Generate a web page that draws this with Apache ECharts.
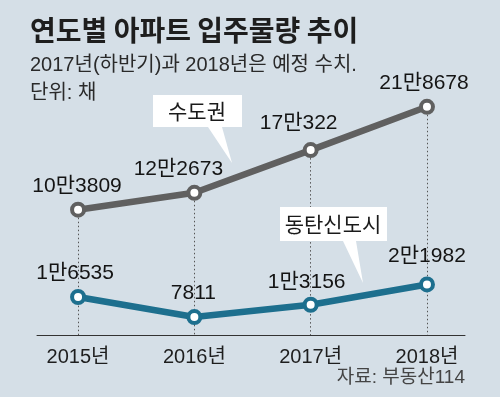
<!DOCTYPE html>
<html>
<head>
<meta charset="utf-8">
<script src="https://cdn.jsdelivr.net/npm/echarts@6/dist/echarts.min.js"></script>
<style>
html,body{margin:0;padding:0;background:#d5dfe7;}
#c{width:500px;height:397px;}
</style>
</head>
<body>
<div id="c"></div>
<script>
// ---- data ----
const categories = ['2015년', '2016년', '2017년', '2018년'];
const capitalArea = [103809, 122673, 170322, 218678];   // 수도권
const dongtan = [16535, 7811, 13156, 21982];            // 동탄신도시
const capitalLabels = ['10만3809', '12만2673', '17만322', '21만8678'];
const dongtanLabels = ['1만6535', '7811', '1만3156', '2만1982'];
const seriesNames = ['수도권', '동탄신도시'];

// ---- style ----
const FONT = "'Liberation Sans', 'Noto Sans CJK KR', sans-serif";
const KFONT = "'Noto Sans CJK KR', 'Liberation Sans', sans-serif";
const GRAY = '#606060';
const BLUE = '#1d6f8e';
const GRAY_MIN = -36000;
const grayShift = [[-1, 0], [-16, 0], [-12, -3], [-3, 0]];
const blueShift = [[-3, 0], [-1, 0], [-4, 1], [0, -5]];

const chart = echarts.init(document.getElementById('c'), null, {renderer: 'canvas'});

function buildData(values, labels, shifts) {
  return values.map((v, i) => ({
    value: [i, v],
    label: {formatter: labels[i], offset: shifts[i]}
  }));
}

const option = {
  backgroundColor: '#d5dfe7',
  animation: false,
  grid: {left: 37, right: 35, top: 59, bottom: 62},
  xAxis: {
    type: 'value',
    min: -0.353,
    max: 3.327,
    axisLine: {show: true, onZero: false, lineStyle: {color: '#333', width: 1}},
    axisTick: {show: false},
    splitLine: {show: false},
    axisLabel: {
      customValues: [0, 1, 2, 3],
      formatter: v => categories[Math.round(v)],
      color: '#1e1e1e', fontSize: 20, fontFamily: FONT, margin: 12
    }
  },
  yAxis: [
    {type: 'value', min: GRAY_MIN, max: 272000, show: false, splitLine: {show: false}},
    {type: 'value', min: 0, max: 120000, show: false, splitLine: {show: false}}
  ],
  series: [
    {
      name: seriesNames[0],
      type: 'line',
      yAxisIndex: 0,
      z: 2,
      data: buildData(capitalArea, capitalLabels, grayShift),
      symbol: 'circle',
      symbolSize: 12,
      lineStyle: {color: GRAY, width: 6.5},
      itemStyle: {color: '#fff', borderColor: GRAY, borderWidth: 4},
      label: {show: true, position: 'top', distance: 5, color: '#141414', fontSize: 21, fontFamily: FONT},
      markLine: {
        silent: true,
        symbol: 'none',
        z: 1,
        label: {show: false},
        lineStyle: {color: '#555', type: [1.5, 2.5], width: 1},
        data: capitalArea.map((v, i) => [{coord: [i, v]}, {coord: [i, GRAY_MIN]}])
      }
    },
    {
      name: seriesNames[1],
      type: 'line',
      yAxisIndex: 1,
      z: 3,
      data: buildData(dongtan, dongtanLabels, blueShift),
      symbol: 'circle',
      symbolSize: 12,
      lineStyle: {color: BLUE, width: 6.5},
      itemStyle: {color: '#fff', borderColor: BLUE, borderWidth: 4},
      label: {show: true, position: 'top', distance: 5, color: '#141414', fontSize: 21, fontFamily: FONT}
    }
  ],
  graphic: [
    {type: 'text', left: 30, top: 16, style: {text: '연도별 아파트 입주물량 추이', font: "bold 28px " + KFONT, fill: '#1e1e1e'}},
    {type: 'text', left: 30, top: 55, style: {text: '2017년(하반기)과 2018년은 예정 수치.', font: "20px " + FONT, fill: '#2a2a2a'}},
    {type: 'text', left: 30, top: 83, style: {text: '단위: 채', font: "20px " + FONT, fill: '#2a2a2a'}},
    {type: 'text', right: 35, top: 368, style: {text: '자료: 부동산114', font: "19px " + FONT, fill: '#444'}},
    // callout 수도권
    {type: 'polygon', z: 10, shape: {points: [[153, 95], [242, 95], [242, 127], [222, 127], [232, 163], [208, 127], [153, 127]]}, style: {fill: '#fff'}},
    {type: 'text', z: 11, x: 197, y: 111, style: {text: seriesNames[0], font: "21px " + KFONT, fill: '#1a1a1a', align: 'center', verticalAlign: 'middle'}},
    // callout 동탄신도시
    {type: 'polygon', z: 10, shape: {points: [[280, 207], [387, 207], [387, 241], [356, 241], [363, 283], [343, 241], [280, 241]]}, style: {fill: '#fff'}},
    {type: 'text', z: 11, x: 333, y: 224, style: {text: seriesNames[1], font: "21px " + KFONT, fill: '#1a1a1a', align: 'center', verticalAlign: 'middle'}}
  ]
};
chart.setOption(option);
</script>
</body>
</html>
